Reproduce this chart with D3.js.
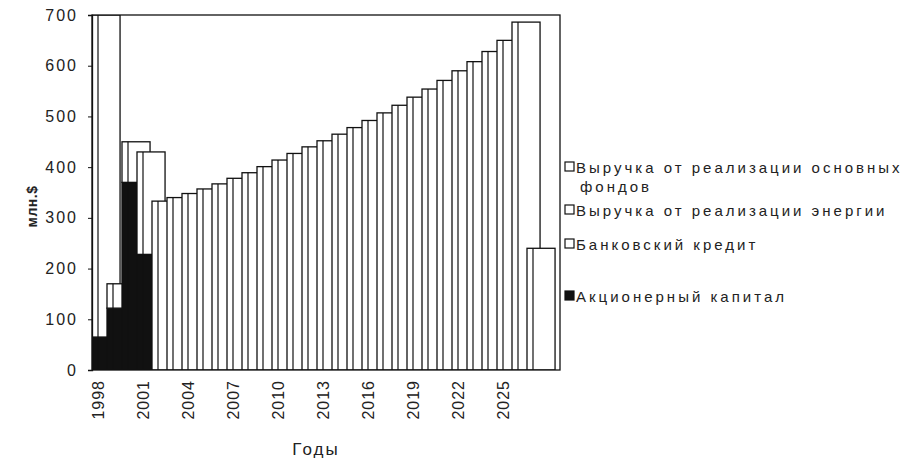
<!DOCTYPE html>
<html>
<head>
<meta charset="utf-8">
<script src="https://cdn.jsdelivr.net/npm/d3@7"></script>
<style>
  body { margin: 0; background: #fff; }
  svg { display: block; }
  text { font-family: "Liberation Sans", Arial, sans-serif; fill: #222; }
</style>
</head>
<body>
<svg id="chart" width="911" height="465"></svg>
<script>
// ---- data ----
const years = d3.range(1998, 2028);
// stacked series (bottom -> top)
const akcKapital = [65, 122, 370, 228, 0, 0, 0, 0, 0, 0, 0, 0, 0, 0, 0, 0, 0, 0, 0, 0, 0, 0, 0, 0, 0, 0, 0, 0, 0, 0];
const bankKredit = [635, 48, 80, 202, 0, 0, 0, 0, 0, 0, 0, 0, 0, 0, 0, 0, 0, 0, 0, 0, 0, 0, 0, 0, 0, 0, 0, 0, 0, 0];
const vyruchkaEnergii = [0, 0, 0, 0, 333, 340, 348, 357, 367, 378, 389, 401, 414, 427, 440, 452, 465, 478, 492, 507, 522, 538, 554, 571, 590, 608, 628, 650, 686, 0];
const vyruchkaFondov = [0, 0, 0, 0, 0, 0, 0, 0, 0, 0, 0, 0, 0, 0, 0, 0, 0, 0, 0, 0, 0, 0, 0, 0, 0, 0, 0, 0, 0, 240];
const seriesNames = ["Акционерный капитал", "Банковский кредит", "Выручка от реализации энергии", "Выручка от реализации основных фондов"];
const tickYears = [1998, 2001, 2004, 2007, 2010, 2013, 2016, 2019, 2022, 2025];
const yTicks = [0, 100, 200, 300, 400, 500, 600, 700];
const yTitle = "млн.$";
const xTitle = "Годы";

const colors = ["#111", "#fff", "#fff", "#fff"];

// ---- layout ----
const svg = d3.select("#chart");
const plot = { left: 92, right: 560, top: 15, bottom: 370 };

const x = d3.scaleBand().domain(years).range([plot.left, plot.left + years.length * 15]).padding(0);
const y = d3.scaleLinear().domain([0, 700]).range([plot.bottom, plot.top]);

const table = years.map((yr, i) => ({
  year: yr,
  [seriesNames[0]]: akcKapital[i],
  [seriesNames[1]]: bankKredit[i],
  [seriesNames[2]]: vyruchkaEnergii[i],
  [seriesNames[3]]: vyruchkaFondov[i]
}));
const stacked = d3.stack().keys(seriesNames)(table);

svg.append("defs").append("clipPath").attr("id", "clip")
  .append("rect").attr("x", plot.left).attr("y", plot.top)
  .attr("width", plot.right - plot.left).attr("height", plot.bottom - plot.top);

const barW = x.bandwidth() * 1.87;
const bars = svg.append("g").attr("clip-path", "url(#clip)");

// draw year by year so later columns overlap earlier ones
years.forEach((yr, i) => {
  const g = bars.append("g");
  stacked.forEach((s, k) => {
    const d = s[i];
    if (d[1] - d[0] <= 0) return;
    g.append("rect")
      .attr("x", x(yr))
      .attr("y", y(d[1]))
      .attr("width", barW)
      .attr("height", y(d[0]) - y(d[1]))
      .attr("fill", colors[k])
      .attr("stroke", "#111")
      .attr("stroke-width", 1.3);
  });
  const total = d3.sum(stacked, s => s[i][1] - s[i][0]);
  g.append("line")
    .attr("x1", x(yr) + x.bandwidth() * 0.4).attr("x2", x(yr) + x.bandwidth() * 0.4)
    .attr("y1", y(total)).attr("y2", y(0))
    .attr("stroke", "#111")
    .attr("stroke-width", 1.2);
});

// frame
svg.append("rect")
  .attr("x", plot.left).attr("y", plot.top)
  .attr("width", plot.right - plot.left).attr("height", plot.bottom - plot.top)
  .attr("fill", "none").attr("stroke", "#111").attr("stroke-width", 1.3);

// y axis
const yAxis = svg.append("g").attr("transform", `translate(${plot.left},0)`)
  .call(d3.axisLeft(y).tickValues(yTicks).tickSize(4).tickPadding(10));
yAxis.select(".domain").attr("stroke", "#111").attr("stroke-width", 1.3);
yAxis.selectAll("line").attr("stroke", "#111");
yAxis.selectAll("text").style("font-size", "16px").attr("letter-spacing", "2px").attr("fill", "#333");

// x axis labels
const xAxis = svg.append("g").attr("transform", `translate(0,${plot.bottom})`)
  .call(d3.axisBottom(x).tickValues(tickYears).tickSize(0).tickPadding(0));
xAxis.select(".domain").remove();
xAxis.selectAll(".tick").attr("transform", d => `translate(${x(d) + x.bandwidth() * 0.4},0)`);
xAxis.selectAll("text")
  .attr("transform", "rotate(-90)")
  .attr("x", -10).attr("y", 0).attr("dy", "0.35em")
  .style("text-anchor", "end")
  .style("font-size", "16px")
  .attr("letter-spacing", "1px")
  .attr("fill", "#222");

// titles
svg.append("text")
  .attr("transform", `translate(37,${(plot.top + plot.bottom) / 2 + 14}) rotate(-90)`)
  .attr("text-anchor", "middle").style("font-size", "14px").style("font-weight", "bold")
  .attr("letter-spacing", "0.5px")
  .text(yTitle);
svg.append("text")
  .attr("x", 316).attr("y", 455).attr("text-anchor", "middle")
  .style("font-size", "17px").attr("letter-spacing", "2px")
  .text(xTitle);

// legend
const legendItems = [
  { lines: ["Выручка от реализации основных", "фондов"], y: 168, color: colors[3] },
  { lines: ["Выручка от реализации энергии"], y: 211, color: colors[2] },
  { lines: ["Банковский кредит"], y: 245, color: colors[1] },
  { lines: ["Акционерный капитал"], y: 297, color: colors[0] }
];
const lg = svg.append("g");
legendItems.forEach(it => {
  lg.append("rect").attr("x", 565).attr("y", it.y - 6).attr("width", 9).attr("height", 9)
    .attr("fill", it.color).attr("stroke", "#111").attr("stroke-width", 1.2);
  it.lines.forEach((ln, j) => {
    lg.append("text").attr("x", j === 0 ? 576 : 580).attr("y", it.y + 5 + j * 19)
      .style("font-size", "15px").attr("letter-spacing", "3px").text(ln);
  });
});
</script>
</body>
</html>
